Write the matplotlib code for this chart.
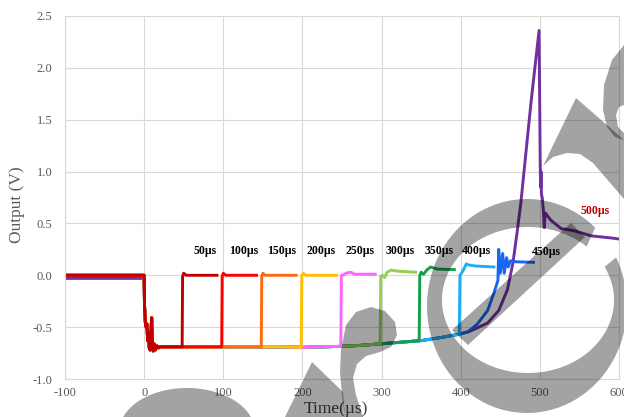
import matplotlib
matplotlib.use("Agg")
import matplotlib.pyplot as plt
import numpy as np
from matplotlib.patches import Polygon, Ellipse
from matplotlib.transforms import Affine2D

plt.rcParams['font.family'] = ['Liberation Serif', 'DejaVu Serif']
plt.rcParams['axes.unicode_minus'] = False

# pulse widths (us) and trace colours
widths = [50, 100, 150, 200, 250, 300, 350, 400, 450, 500]
colors = ['#c00000', '#ff0000', '#ff6a10', '#ffc000', '#ff66ff',
          '#92d050', '#14a049', '#1ab0f0', '#1a66f0', '#7030a0']
pre_level = [0, 0, 0, 0, 0, 0, 0, 0, 0, -0.03]

# common response after the trigger at t=0
base_t = [0, 0.5, 1.5, 2.5, 3.5, 4.5, 5.5, 6.5, 7.5, 8.5, 9.5, 10.5, 11.5, 12.5,
          14, 16, 18, 20, 30, 50, 75, 100, 125, 150, 175, 200, 225, 250, 275,
          300, 325, 350, 375, 400]
base_v = [0.0, -0.30, -0.45, -0.50, -0.47, -0.63, -0.55, -0.70, -0.72, -0.58,
          -0.41, -0.68, -0.73, -0.66, -0.72, -0.68, -0.70, -0.69, -0.69, -0.69,
          -0.69, -0.69, -0.69, -0.69, -0.69, -0.695, -0.69, -0.685, -0.675,
          -0.66, -0.645, -0.63, -0.60, -0.565]

# recovery of each trace at the end of its pulse
rec_t = [
    [48, 48.6, 50, 53, 92],
    [98, 98.6, 100, 103, 142],
    [148, 148.6, 150, 153, 192],
    [198.5, 199.2, 201, 204, 243],
    [248.5, 249.2, 251, 255, 261, 266, 292],
    [298.2, 299, 301, 304, 307, 312, 320, 343],
    [347.5, 348.3, 350, 353, 357, 362, 370, 392],
    [398.2, 399, 401, 404, 407, 410, 418, 442],
    [410, 421, 434, 442, 447, 448, 450, 453, 455, 458, 460, 463, 470, 492],
    [410, 420, 434, 448, 459, 466, 471, 476, 489, 499, 500.5, 501, 501.5, 502,
     503, 504.5, 505.5, 507, 514, 527, 543, 565, 590, 610],
]
rec_v = [
    [-0.69, -0.01, 0.02, 0.0, 0.0],
    [-0.69, -0.01, 0.02, 0.0, 0.0],
    [-0.69, -0.01, 0.02, 0.0, 0.0],
    [-0.695, -0.01, 0.02, 0.0, 0.0],
    [-0.685, 0.0, 0.0, 0.02, 0.03, 0.01, 0.01],
    [-0.66, -0.01, 0.0, -0.02, 0.03, 0.05, 0.04, 0.03],
    [-0.63, 0.0, 0.03, 0.01, 0.05, 0.08, 0.06, 0.055],
    [-0.57, 0.0, 0.02, 0.06, 0.11, 0.10, 0.09, 0.08],
    [-0.54, -0.47, -0.34, -0.17, -0.05, 0.25, 0.02, 0.21, 0.02, 0.17, 0.08,
     0.14, 0.13, 0.125],
    [-0.545, -0.51, -0.46, -0.34, -0.14, 0.12, 0.40, 0.70, 1.68, 2.36, 1.04,
     0.85, 1.00, 0.78, 0.75, 0.62, 0.46, 0.60, 0.53, 0.45, 0.43, 0.38, 0.36,
     0.34],
]

labels = ['50µs', '100µs', '150µs', '200µs', '250µs', '300µs', '350µs',
          '400µs', '450µs', '500µs']
label_x = [77, 126, 174, 224, 273, 323, 373, 420, 508, 570]
label_y = [0.236] * 8 + [0.22, 0.62]
label_colors = ['black'] * 9 + ['#c00000']

W, H = 624, 417
fig = plt.figure(figsize=(W / 100, H / 100), dpi=100)
ax = fig.add_axes([65 / W, 38 / H, 554 / W, 363 / H])

# longest pulse first so the short ones sit on top
for i in reversed(range(len(widths))):
    start = rec_t[i][0]
    t = [-100, 0] + [x for x in base_t if 0 < x < start] + rec_t[i]
    v = [pre_level[i], pre_level[i]] + \
        [y for x, y in zip(base_t, base_v) if 0 < x < start] + rec_v[i]
    ax.plot(t, v, color=colors[i], lw=2.1, solid_joinstyle='round')

for txt, x, y, c in zip(labels, label_x, label_y, label_colors):
    ax.text(x, y, txt, ha='center', va='center', fontsize=8.5,
            fontweight='bold', color=c)

ax.set_xlim(-100, 600)
ax.set_ylim(-1.0, 2.5)
ax.set_xticks(np.arange(-100, 601, 100))
ax.set_yticks(np.arange(-1.0, 2.51, 0.5))
ax.set_yticklabels([f'{v:.1f}' for v in np.arange(-1.0, 2.51, 0.5)])
ax.tick_params(length=0, labelsize=9, colors='#595959')
ax.tick_params(axis='y', pad=9)
ax.tick_params(axis='x', pad=6)
ax.grid(True, color='#d9d9d9', lw=0.8)
ax.set_axisbelow(True)
for s in ax.spines.values():
    s.set_color('#d9d9d9')
    s.set_linewidth(0.8)

fig.text(17 / W, 1 - 205 / H, 'Output (V)', rotation=90, ha='center',
         va='center', fontsize=12.5, color='#595959')
fig.text(336 / W, 1 - 409 / H, 'Time(µs)', ha='center', va='center',
         fontsize=12.5, color='#404040')

# translucent logo stamped over the figure, in pixel units from the top-left
px = Affine2D().scale(1, -1).translate(0, H)
stamp = dict(facecolor='black', alpha=0.36, edgecolor='none', zorder=50,
             transform=px)


def ring(a1, a2):
    a = np.radians(np.linspace(a1, a2, 120))
    outer = np.c_[527 + 100 * np.cos(a), 306 - 107 * np.sin(a)]
    inner = np.c_[528 + 86 * np.cos(a), 300 - 73 * np.sin(a)][::-1]
    return np.vstack([outer, inner])


fig.add_artist(Polygon(ring(47, 387), **stamp))
fig.add_artist(Polygon([(571, 223), (585, 237), (468, 345), (452, 330)],
                       **stamp))
fig.add_artist(Polygon([(624, 45), (612, 60), (604, 85), (603, 110),
                        (607, 127), (615, 137), (624, 140), (624, 133),
                        (618, 127), (616, 115), (619, 107), (624, 105)],
                       **stamp))
fig.add_artist(Polygon([(576, 98), (624, 140), (624, 199), (593, 163),
                        (580, 154), (567, 153), (553, 157), (543, 166)],
                       **stamp))
fig.add_artist(Polygon([(371, 307), (385, 311), (395, 322), (397, 335),
                        (391, 347), (380, 352), (366, 356), (357, 364),
                        (353, 378), (356, 395), (363, 417), (345, 417),
                        (342, 395), (340, 372), (341, 350), (346, 325),
                        (356, 312)], **stamp))
fig.add_artist(Polygon([(312, 362), (343, 392), (345, 417), (285, 417)],
                       **stamp))
fig.add_artist(Ellipse((187, 432), 136, 88, **stamp))

fig.savefig('out.png', dpi=100)
